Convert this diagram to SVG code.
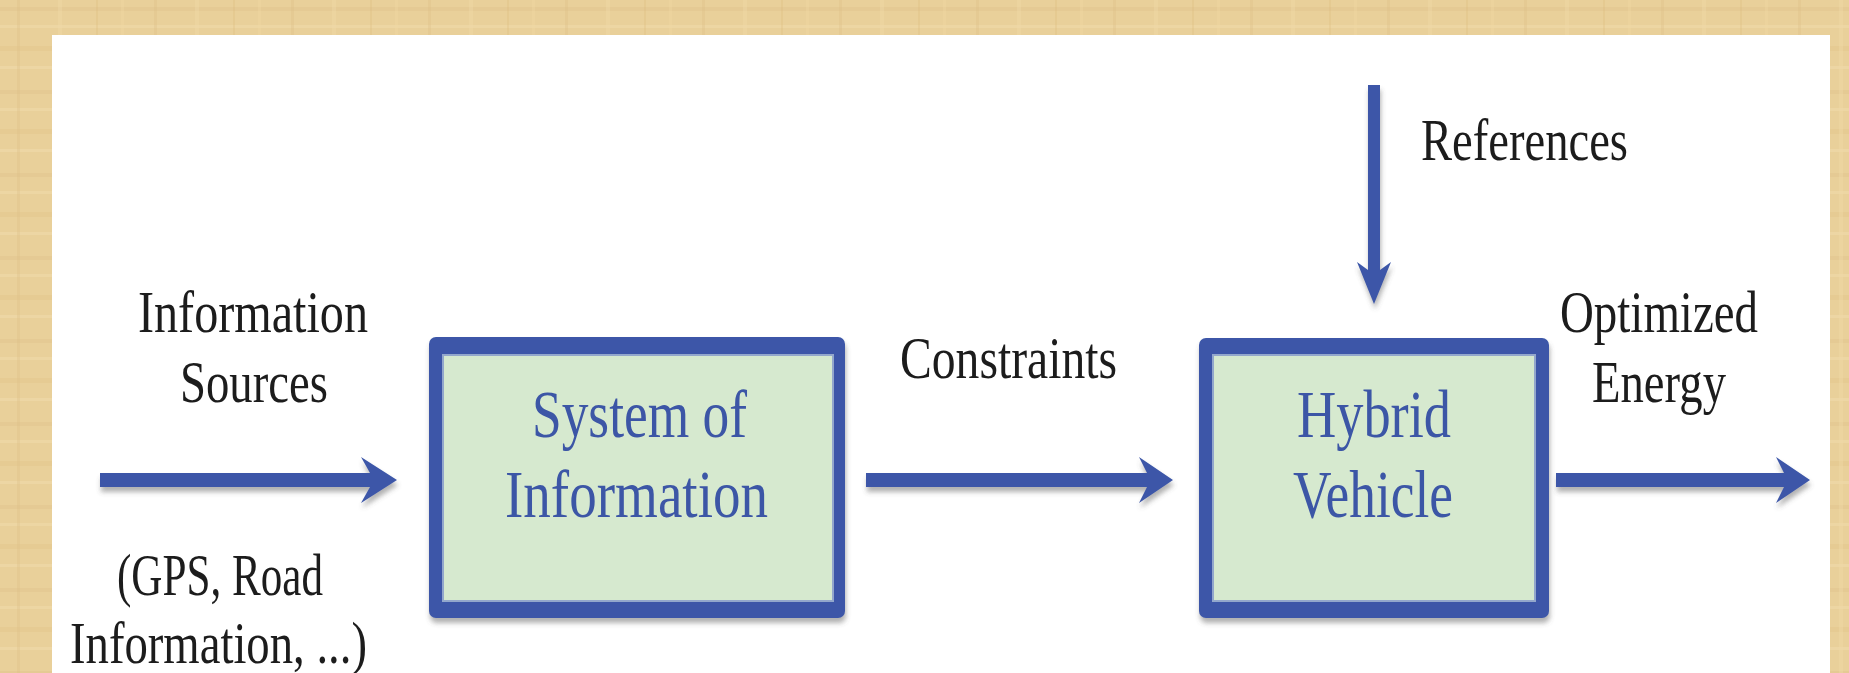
<svg xmlns="http://www.w3.org/2000/svg" width="1849" height="673" viewBox="0 0 1849 673">
<style>
.lbl{font-family:"Liberation Serif","DejaVu Serif",serif;font-size:59px;fill:#1c1c1c}
.box-text{font-family:"Liberation Serif","DejaVu Serif",serif;font-size:68px;fill:#3c56a6}
.outer{fill:#3c57a8}
.inner{fill:#d6e9cf;stroke:#93a7cc;stroke-width:2}
.arrow{fill:#3c57a8}
</style>
<defs>
<pattern id="papyrus" width="137" height="83" patternUnits="userSpaceOnUse">
<rect width="137" height="83" fill="#e9d09a"/>
<rect x="0" y="7" width="137" height="4" fill="#ddc088" opacity="0.35"/>
<rect x="0" y="25" width="137" height="3" fill="#f1dcab" opacity="0.5"/>
<rect x="0" y="46" width="137" height="5" fill="#dbbd80" opacity="0.25"/>
<rect x="0" y="66" width="137" height="3" fill="#f2deb0" opacity="0.45"/>
<rect x="17" y="0" width="3" height="83" fill="#dcbf84" opacity="0.3"/>
<rect x="58" y="0" width="4" height="83" fill="#f0daa8" opacity="0.4"/>
<rect x="96" y="0" width="2" height="83" fill="#d6b779" opacity="0.25"/>
<rect x="121" y="0" width="3" height="83" fill="#efd8a4" opacity="0.35"/>
</pattern>
<filter id="shadow" x="-10%" y="-20%" width="120%" height="150%">
<feDropShadow dx="1" dy="5" stdDeviation="2.5" flood-color="#555" flood-opacity="0.45"/>
</filter>
</defs>
<rect id="background" width="1849" height="673" fill="url(#papyrus)"/>
<rect id="panel" x="52" y="35" width="1778" height="638" fill="#ffffff"/>

<g id="connectors" filter="url(#shadow)">
<path id="arrow-sources" class="arrow" d="M100,473 H370 L361,457 L397,480 L361,503 L370,487 H100 Z"/>
<path id="arrow-constraints" class="arrow" d="M866,473 H1147 L1139,457 L1173,480 L1139,503 L1147,487 H866 Z"/>
<path id="arrow-energy" class="arrow" d="M1556,473 H1784 L1776,457 L1810,480 L1776,503 L1784,487 H1556 Z"/>
<path id="arrow-references" class="arrow" d="M1368,85 H1380 V270 L1391,262 L1374,304 L1357,262 L1368,270 Z"/>
</g>

<g id="node-system">
<rect class="outer" x="429" y="337" width="416" height="281" rx="7" filter="url(#shadow)"/>
<rect class="inner" x="443" y="355" width="390" height="246"/>
<text class="box-text" x="532" y="437" textLength="215" lengthAdjust="spacingAndGlyphs">System of</text>
<text class="box-text" x="505" y="517" textLength="263" lengthAdjust="spacingAndGlyphs">Information</text>
</g>

<g id="node-hybrid">
<rect class="outer" x="1199" y="338" width="350" height="280" rx="7" filter="url(#shadow)"/>
<rect class="inner" x="1213" y="355" width="322" height="246"/>
<text class="box-text" x="1297" y="437" textLength="154" lengthAdjust="spacingAndGlyphs">Hybrid</text>
<text class="box-text" x="1293" y="517" textLength="160" lengthAdjust="spacingAndGlyphs">Vehicle</text>
</g>

<g id="labels">
<text class="lbl" x="138" y="332" textLength="230" lengthAdjust="spacingAndGlyphs">Information</text>
<text class="lbl" x="180" y="402" textLength="148" lengthAdjust="spacingAndGlyphs">Sources</text>
<text class="lbl" x="117" y="595" textLength="206" lengthAdjust="spacingAndGlyphs">(GPS, Road</text>
<text class="lbl" x="70" y="663" textLength="297" lengthAdjust="spacingAndGlyphs">Information, ...)</text>
<text class="lbl" x="900" y="378" textLength="217" lengthAdjust="spacingAndGlyphs">Constraints</text>
<text class="lbl" x="1421" y="160" textLength="207" lengthAdjust="spacingAndGlyphs">References</text>
<text class="lbl" x="1560" y="332" textLength="198" lengthAdjust="spacingAndGlyphs">Optimized</text>
<text class="lbl" x="1592" y="402" textLength="134" lengthAdjust="spacingAndGlyphs">Energy</text>
</g>
</svg>
